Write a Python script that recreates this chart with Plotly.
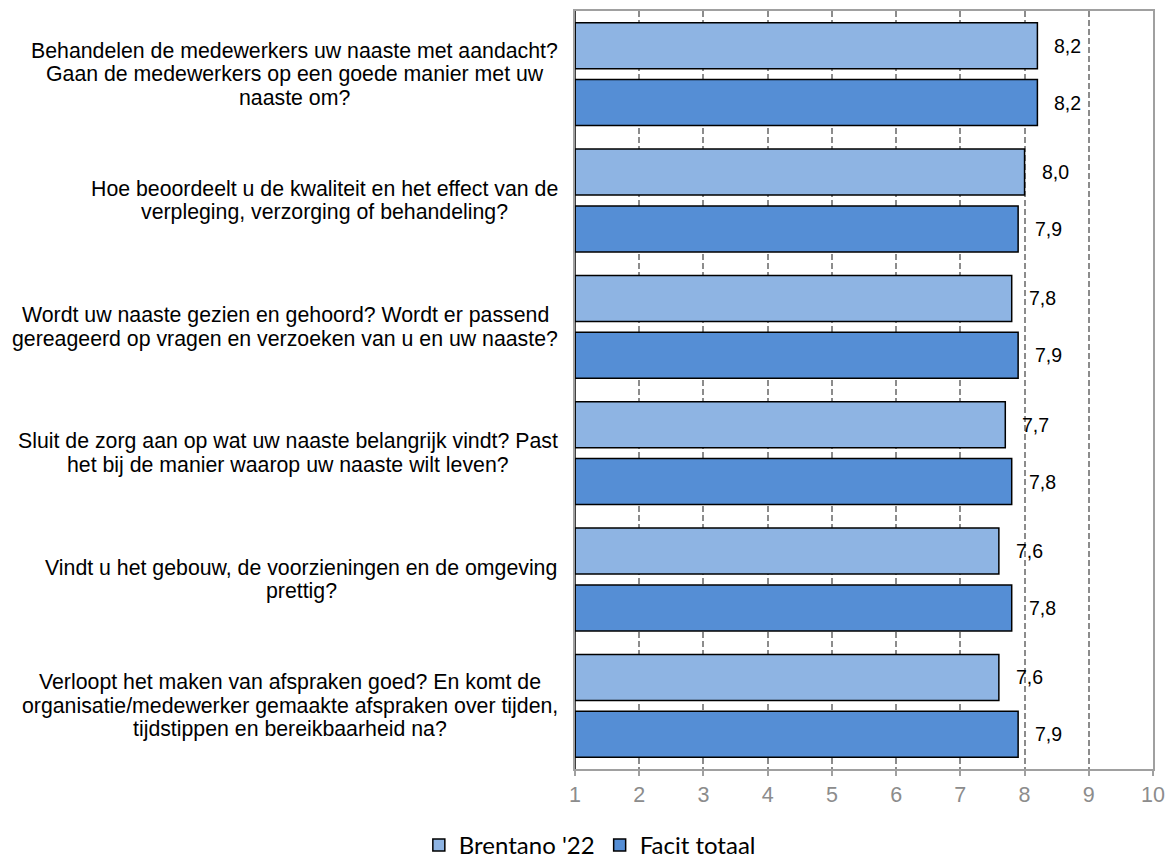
import plotly.graph_objects as go

# Survey questions (top to bottom), one list entry per printed line
questions = [
    ["Behandelen de medewerkers uw naaste met aandacht?",
     "Gaan de medewerkers op een goede manier met uw",
     "naaste om?"],
    ["Hoe beoordeelt u de kwaliteit en het effect van de",
     "verpleging, verzorging of behandeling?"],
    ["Wordt uw naaste gezien en gehoord? Wordt er passend",
     "gereageerd op vragen en verzoeken van u en uw naaste?"],
    ["Sluit de zorg aan op wat uw naaste belangrijk vindt? Past",
     "het bij de manier waarop uw naaste wilt leven?"],
    ["Vindt u het gebouw, de voorzieningen en de omgeving",
     "prettig?"],
    ["Verloopt het maken van afspraken goed? En komt de",
     "organisatie/medewerker gemaakte afspraken over tijden,",
     "tijdstippen en bereikbaarheid na?"],
]
brentano = [8.2, 8.0, 7.8, 7.7, 7.6, 7.6]
facit = [8.2, 7.9, 7.9, 7.8, 7.8, 7.9]
series_names = ["Brentano '22", "Facit totaal"]
x_ticks = list(range(1, 11))

W, H = 1168, 860
M_L, M_R, M_T, M_B = 575, 15, 11, 91
PLOT_W = W - M_L - M_R

LABEL_FONT = 21.3
LINE_PITCH = 23.5
LABEL_RIGHT = 558  # right edge of the question text blocks (px)

# Arial / Liberation Sans advance widths (1/1000 em) for centring the lines
_ADV = dict(a=556, b=556, c=500, d=556, e=556, f=278, g=556, h=556, i=222,
            j=222, k=500, l=222, m=833, n=556, o=556, p=556, q=556, r=333,
            s=500, t=278, u=556, v=500, w=722, x=500, y=500, z=500,
            B=667, E=667, G=778, H=722, P=667, S=667, V=667, W=944)
_ADV.update({" ": 278, "?": 556, ",": 278, "/": 278, "'": 191})


def text_width(s, size):
    return sum(_ADV.get(ch, 556) for ch in s) * size / 1000.0


positions = list(range(len(questions)))
bargap = 0.10
bargroupgap = 0.19
# vertical offset of each bar inside its group (first series on top)
half_slot = (1 - bargap) / 4

fig = go.Figure()
for name, vals, color in [
    (series_names[0], brentano, "#8EB4E3"),
    (series_names[1], facit, "#558ED5"),
]:
    fig.add_trace(go.Bar(
        x=[v - 1 for v in vals],
        base=1,
        y=positions,
        orientation="h",
        name=name,
        marker=dict(color=color, line=dict(color="#000000", width=1.5)),
        hoverinfo="skip",
    ))

annotations = []
# question labels left of the plot, lines centred on each other
for i, lines in enumerate(questions):
    block_w = max(text_width(s, LABEL_FONT) for s in lines)
    centre_px = LABEL_RIGHT - block_w / 2
    n = len(lines)
    for k, line in enumerate(lines):
        annotations.append(dict(
            x=(centre_px - M_L) / PLOT_W, xref="paper", y=i, yref="y",
            text=line, showarrow=False, xanchor="center", yanchor="middle",
            yshift=-(k - (n - 1) / 2) * LINE_PITCH,
            font=dict(family="Liberation Sans, Arial", size=LABEL_FONT,
                      color="#000000"),
        ))
# value labels right of each bar
for sign, vals in [(-1, brentano), (1, facit)]:
    for i, v in enumerate(vals):
        annotations.append(dict(
            x=v, xref="x", y=i + sign * half_slot, yref="y",
            text=f"{v:.1f}".replace(".", ","), showarrow=False,
            xanchor="left", yanchor="middle", xshift=15,
            font=dict(family="Liberation Sans, Arial", size=19.5, color="#000000"),
        ))

fig.update_layout(
    width=W, height=H,
    margin=dict(l=M_L, r=M_R, t=M_T, b=M_B, autoexpand=False),
    paper_bgcolor="white", plot_bgcolor="white",
    barmode="group", bargap=bargap, bargroupgap=bargroupgap,
    annotations=annotations,
    showlegend=True,
    legend=dict(
        orientation="h", x=0.505, xanchor="center",
        y=0.017, yanchor="middle", xref="container", yref="container",
        bgcolor="rgba(0,0,0,0)",
        font=dict(family="Lato, Open Sans", size=24, color="#000000"),
        itemwidth=30, traceorder="normal",
    ),
    xaxis=dict(
        range=[1, 10], tickvals=x_ticks, ticktext=[str(t) for t in x_ticks],
        showgrid=True, gridcolor="#8c8c8c", gridwidth=1.5, griddash="6px,3px",
        showline=True, linecolor="#a0a0a0", linewidth=1.5, mirror=True,
        ticks="outside", ticklen=5, tickcolor="#a0a0a0", tickwidth=1.5,
        ticklabelstandoff=0,
        tickfont=dict(family="Liberation Sans, Arial", size=21.5, color="#8c8c8c"),
        zeroline=False, fixedrange=True, automargin=False,
    ),
    yaxis=dict(
        range=[5.5, -0.5], showticklabels=False, showgrid=False,
        showline=True, linecolor="#a0a0a0", linewidth=1.5, mirror=True,
        zeroline=False, ticks="", automargin=False,
    ),
    shapes=[dict(type="line", xref="x", yref="paper", x0=1, x1=1, y0=0, y1=1,
                 line=dict(color="#000000", width=1.5))],
)

fig.write_html("out.html")
